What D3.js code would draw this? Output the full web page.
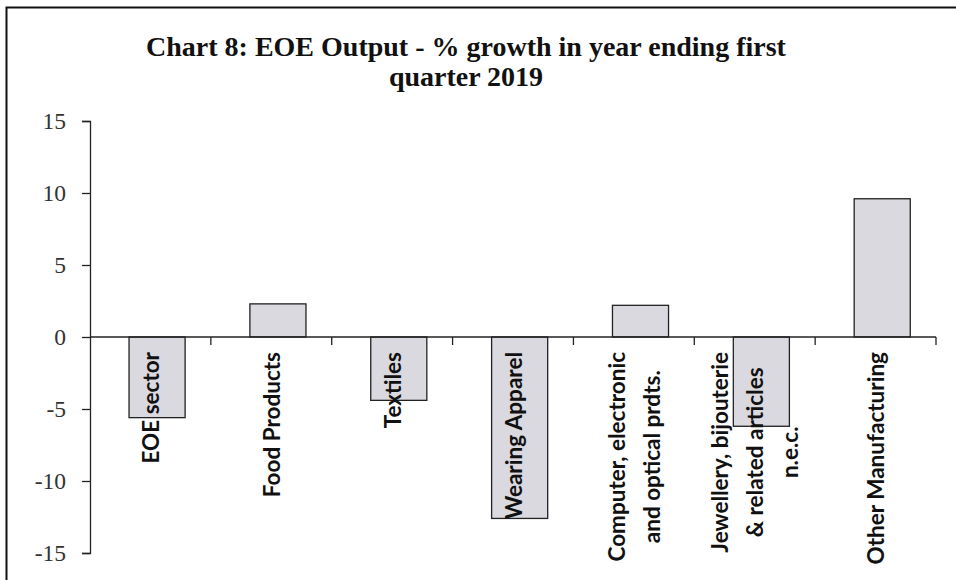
<!DOCTYPE html>
<html>
<head>
<meta charset="utf-8">
<script src="https://cdn.jsdelivr.net/npm/d3@7"></script>
<style>
  body { margin: 0; background: #fff; }
  svg { display: block; }
</style>
</head>
<body>
<svg></svg>
<script>
// data
const categories = ["EOE sector", "Food Products", "Textiles", "Wearing Apparel",
    "Computer, electronic and optical prdts.", "Jewellery, bijouterie & related articles n.e.c.",
    "Other Manufacturing"]
const labelLines = [["EOE sector"], ["Food Products"], ["Textiles"], ["Wearing Apparel"],
    ["Computer, electronic", "and optical prdts."],
    ["Jewellery, bijouterie", "& related articles", "n.e.c."],
    ["Other Manufacturing"]]
const growth = [-5.6, 2.3, -4.4, -12.6, 2.2, -6.2, 9.6]
const yTicks = [-15, -10, -5, 0, 5, 10, 15]
const titleLines = ["Chart 8: EOE Output - % growth in year ending first", "quarter 2019"]

const width = 956
const height = 580
const svg = d3.select('svg')
    .attr("width", width)
    .attr("height", height)

const data = categories.map((c, i) => ({ key: c, value: growth[i], lines: labelLines[i] }))

const x = d3.scaleBand()
    .domain(categories)
    .range([90, 936])
const y = d3.scaleLinear()
    .domain([-15, 15])
    .range([553, 121])

// frame (top + left edges only, the rest is cropped in the original)
svg.append("path")
    .attr("d", `M6.5,${height} V7.5 H${width}`)
    .attr("fill", "none")
    .attr("stroke", "#111")
    .attr("stroke-width", 2)

// title
svg.append("text")
    .attr("x", 466)
    .attr("y", 56)
    .attr("text-anchor", "middle")
    .style("font-family", "'Liberation Serif', 'Times New Roman', serif")
    .style("font-weight", "bold")
    .style("font-size", "28px")
    .style("fill", "#111")
    .selectAll("tspan")
    .data(titleLines)
    .enter().append("tspan")
        .attr("x", 466)
        .attr("dy", (d, i) => i === 0 ? 0 : 30)
        .text(d => d)

// y axis
const yAxis = svg.append("g")
    .attr("transform", "translate(90,0)")
    .call(d3.axisLeft(y)
        .tickValues(yTicks)
        .tickFormat(d => String(d))
        .tickSize(8).tickSizeOuter(8).tickPadding(16))
yAxis.selectAll("path, line").attr("stroke", "#222").attr("stroke-width", 1.3)
yAxis.selectAll("text")
    .style("font-family", "'Liberation Serif', serif")
    .style("font-size", "23.5px")
    .style("fill", "#333")

// bars
svg.selectAll("rect.bar")
    .data(data)
    .enter().append("rect")
        .attr("class", "bar")
        .attr("x", d => x(d.key) + x.bandwidth() * 0.323)
        .attr("width", x.bandwidth() * 0.464)
        .attr("y", d => y(Math.max(0, d.value)))
        .attr("height", d => Math.abs(y(d.value) - y(0)))
        .attr("fill", "#d9d9df")
        .attr("stroke", "#222")
        .attr("stroke-width", 1.3)

// x axis line at zero with ticks between categories
const boundaries = categories.slice(1).map(c => x(c)).concat([x.range()[1]])
svg.append("line")
    .attr("x1", x.range()[0])
    .attr("x2", x.range()[1])
    .attr("y1", y(0))
    .attr("y2", y(0))
    .attr("stroke", "#222")
    .attr("stroke-width", 1.3)
svg.selectAll("line.xtick")
    .data(boundaries)
    .enter().append("line")
        .attr("class", "xtick")
        .attr("x1", d => d)
        .attr("x2", d => d)
        .attr("y1", y(0))
        .attr("y2", y(0) + 8)
        .attr("stroke", "#222")
        .attr("stroke-width", 1.3)

// category labels, rotated, top-aligned just below the axis
const lineHeight = 35
const labels = svg.selectAll("g.label")
    .data(data)
    .enter().append("g")
        .attr("class", "label")
        .attr("transform", d => `translate(${x(d.key) + x.bandwidth() / 2 + 3},${y(0) + 15}) rotate(-90)`)

labels.each(function (d) {
    const g = d3.select(this)
    const texts = g.selectAll("text")
        .data(d.lines)
        .enter().append("text")
            .attr("y", (l, i) => (i - (d.lines.length - 1) / 2) * lineHeight)
            .attr("dominant-baseline", "middle")
            .attr("text-anchor", "middle")
            .style("font-family", "Lato, 'Open Sans', sans-serif")
            .style("font-weight", "bold")
            .style("font-size", "22.5px")
            .style("fill", "#111")
            .text(l => l)
    const longest = d3.max(texts.nodes(), n => n.getComputedTextLength())
    texts.attr("x", -longest / 2)
})
</script>
</body>
</html>
